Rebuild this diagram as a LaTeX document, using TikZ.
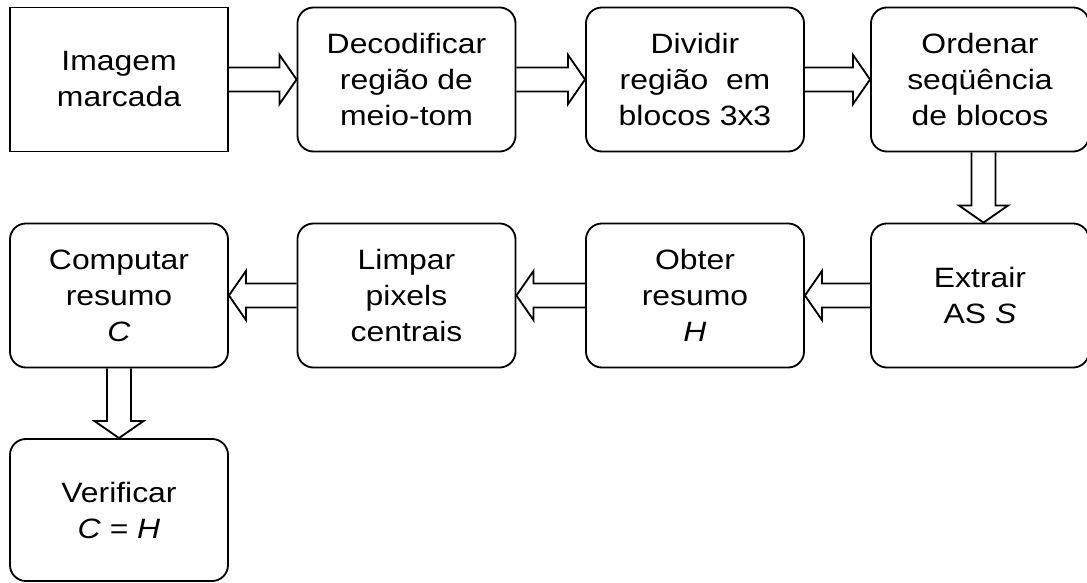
\documentclass[tikz,border=0pt]{standalone}
\usepackage{fontspec}
\setmainfont{Liberation Sans}[FakeStretch=1.14]
\usetikzlibrary{calc}

\begin{document}
\begin{tikzpicture}[x=0.025cm,y=-0.025cm,
        box/.style={draw,line width=1.3pt,minimum width=5.45cm,minimum height=3.6cm,align=center,inner sep=0pt,font=\fontsize{19.9}{25.6}\selectfont},
        rbox/.style={box,rounded corners=0.4cm},
        blk/.style={line width=1.3pt,line join=miter}]
        \useasboundingbox (0,0) rectangle (1087,583);
        % first row
        \node[box] (img) at (119,79.5) {Imagem\\marcada};
        \node[rbox] (decod) at (406.5,79.5) {Decodificar\\regi\~ao de\\meio-tom};
        \node[rbox] (divid) at (695,79.5) {Dividir\\regi\~ao\ \ em\\blocos 3x3};
        \node[rbox] (orden) at (980,79.5) {Ordenar\\seq\"u\^encia\\de blocos};
        % second row
        \node[rbox] (extr) at (980,295.5) {Extrair\\AS \textit{S}};
        \node[rbox] (obter) at (695,295.5) {Obter\\resumo\\\textit{H}};
        \node[rbox] (limpar) at (406.5,295.5) {Limpar\\pixels\\centrais};
        \node[rbox] (comput) at (119,295.5) {Computar\\resumo\\\textit{C}};
        % last box
        \node[rbox,minimum height=3.55cm] (verif) at (119,510) {Verificar\\\textit{C} = \textit{H}};
        % block arrows to the right
        \draw[blk] ($(img.east)+(0,-12)$) -- ($(decod.west)+(-17,-12)$) -- ($(decod.west)+(-17,-24.5)$) -- (decod.west) -- ($(decod.west)+(-17,24.5)$) -- ($(decod.west)+(-17,12)$) -- ($(img.east)+(0,12)$);
        \draw[blk] ($(decod.east)+(0,-12)$) -- ($(divid.west)+(-17,-12)$) -- ($(divid.west)+(-17,-24.5)$) -- (divid.west) -- ($(divid.west)+(-17,24.5)$) -- ($(divid.west)+(-17,12)$) -- ($(decod.east)+(0,12)$);
        \draw[blk] ($(divid.east)+(0,-12)$) -- ($(orden.west)+(-17,-12)$) -- ($(orden.west)+(-17,-24.5)$) -- (orden.west) -- ($(orden.west)+(-17,24.5)$) -- ($(orden.west)+(-17,12)$) -- ($(divid.east)+(0,12)$);
        % block arrows down
        \draw[blk] ($(orden.south)+(-8.5,0)$) -- ($(extr.north)+(-8.5,-17)$) -- ($(extr.north)+(-21,-17)$) -- ($(extr.north)+(3.5,0)$) -- ($(extr.north)+(28,-17)$) -- ($(extr.north)+(15.5,-17)$) -- ($(orden.south)+(15.5,0)$);
        \draw[blk] ($(comput.south)+(-12,0)$) -- ($(verif.north)+(-12,-17)$) -- ($(verif.north)+(-24.5,-17)$) -- (verif.north) -- ($(verif.north)+(24.5,-17)$) -- ($(verif.north)+(12,-17)$) -- ($(comput.south)+(12,0)$);
        % block arrows to the left
        \draw[blk] ($(extr.west)+(0,-12)$) -- ($(obter.east)+(17,-12)$) -- ($(obter.east)+(17,-24.5)$) -- (obter.east) -- ($(obter.east)+(17,24.5)$) -- ($(obter.east)+(17,12)$) -- ($(extr.west)+(0,12)$);
        \draw[blk] ($(obter.west)+(0,-12)$) -- ($(limpar.east)+(17,-12)$) -- ($(limpar.east)+(17,-24.5)$) -- (limpar.east) -- ($(limpar.east)+(17,24.5)$) -- ($(limpar.east)+(17,12)$) -- ($(obter.west)+(0,12)$);
        \draw[blk] ($(limpar.west)+(0,-12)$) -- ($(comput.east)+(17,-12)$) -- ($(comput.east)+(17,-24.5)$) -- (comput.east) -- ($(comput.east)+(17,24.5)$) -- ($(comput.east)+(17,12)$) -- ($(limpar.west)+(0,12)$);
    \end{tikzpicture}
\end{document}
